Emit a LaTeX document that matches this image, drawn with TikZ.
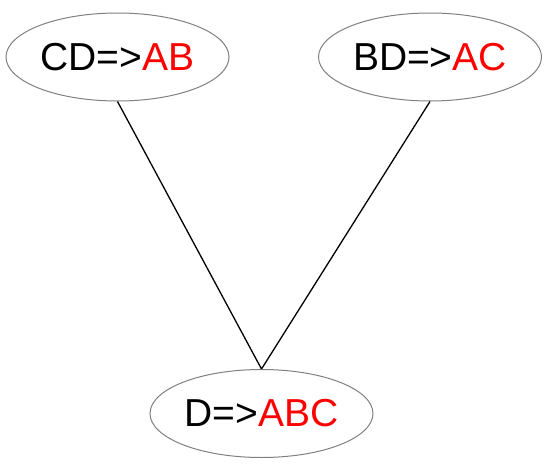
\documentclass[tikz,border=0pt]{standalone}
\usepackage{fontspec}
\setmainfont{Liberation Sans}
\usetikzlibrary{shapes.geometric,positioning}

\begin{document}
\begin{tikzpicture}[on grid,x=1pt,y=-1pt,
    rule/.style={ellipse,draw=gray,line width=1pt,minimum width=223pt,minimum height=88pt,inner sep=0pt,font=\fontsize{39}{47}\selectfont}]
   \useasboundingbox (0,0) rectangle (554,466);
   \node[rule] (cd) at (117.5,57) {CD=>\textcolor{red}{AB}};
   \node[rule] (bd) [right=312.5pt of cd] {BD=>\textcolor{red}{AC}};
   \node[rule] (d) [below right=356.5pt and 144pt of cd] {D=>\textcolor{red}{ABC}};

    \path[draw,line width=1.3pt]
    (cd.south) -- (d.north)
    (bd.south) -- (d.north);
\end{tikzpicture}
\end{document}
